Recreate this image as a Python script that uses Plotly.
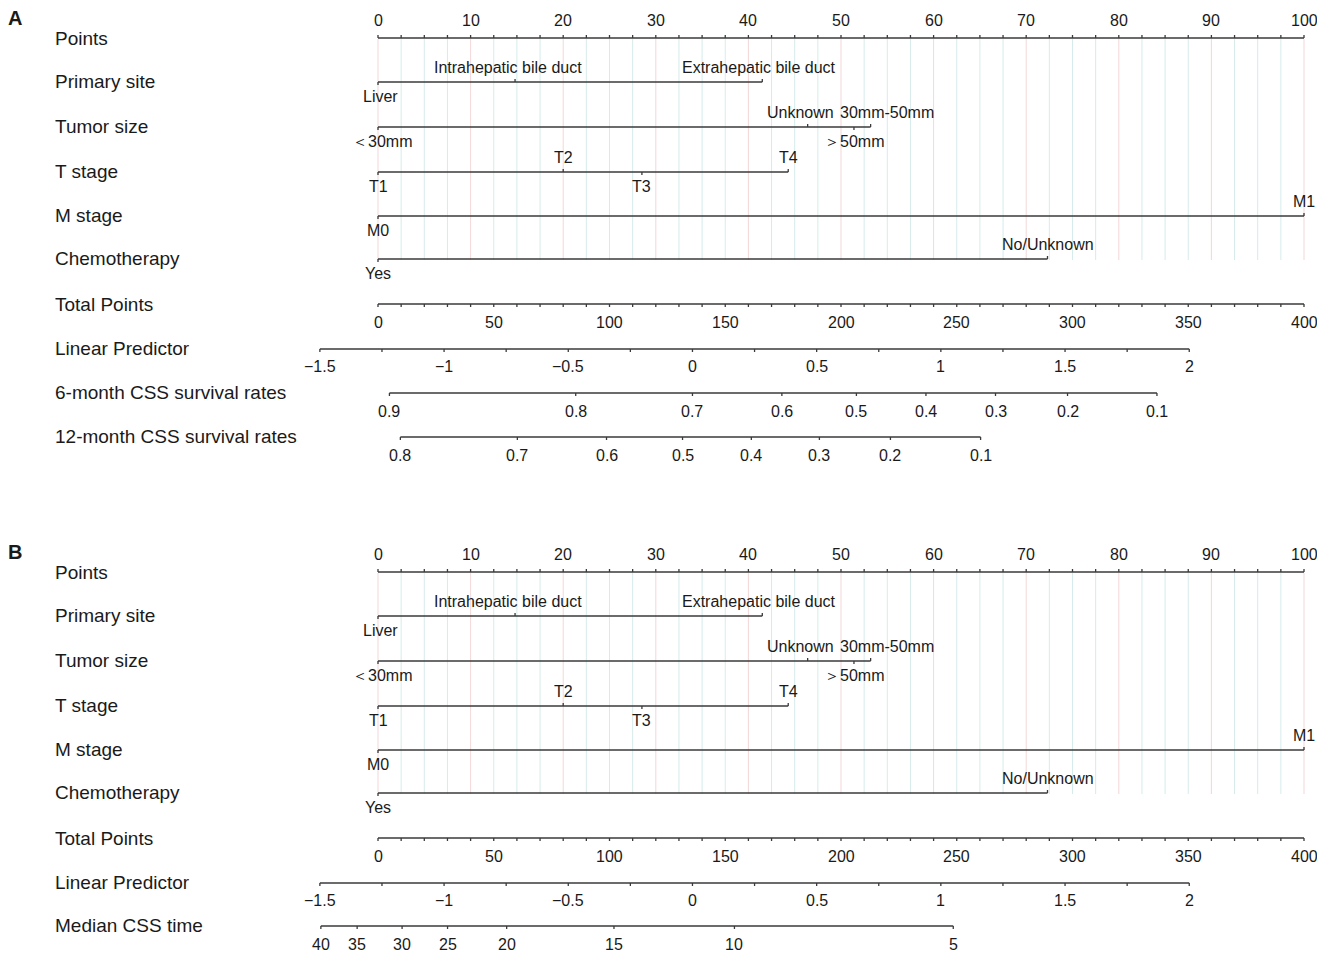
import plotly.graph_objects as go

# ---------------- data ----------------
points_labels = [0, 10, 20, 30, 40, 50, 60, 70, 80, 90, 100]
points_minor_step = 2.5

primary_site_levels = ["Liver", "Intrahepatic bile duct", "Extrahepatic bile duct"]
primary_site_points = [0, 14.8, 41.5]

tumor_size_levels = ["＜30mm", "Unknown", "＞50mm", "30mm-50mm"]
tumor_size_points = [0, 46.4, 51.4, 53.2]

t_stage_levels = ["T1", "T2", "T3", "T4"]
t_stage_points = [0, 20.0, 28.5, 44.3]

m_stage_levels = ["M0", "M1"]
m_stage_points = [0, 100]

chemo_levels = ["Yes", "No/Unknown"]
chemo_points = [0, 72.3]

total_points_labels = [0, 50, 100, 150, 200, 250, 300, 350, 400]
total_points_minor_step = 10
total_points_max = 400

lp_labels = [-1.5, -1, -0.5, 0, 0.5, 1, 1.5, 2]
lp_minor_step = 0.25
lp_at_zero_total = -1.266
lp_per_total_point = 0.00932

surv6_labels = ["0.9", "0.8", "0.7", "0.6", "0.5", "0.4", "0.3", "0.2", "0.1"]
surv6_lp = [-1.22, -0.47, 0.0, 0.36, 0.66, 0.94, 1.22, 1.51, 1.87]

surv12_labels = ["0.8", "0.7", "0.6", "0.5", "0.4", "0.3", "0.2", "0.1"]
surv12_lp = [-1.176, -0.705, -0.346, -0.040, 0.237, 0.511, 0.797, 1.160]

median_labels = ["40", "35", "30", "25", "20", "15", "10", "5"]
median_lp = [-1.496, -1.350, -1.169, -0.986, -0.748, -0.316, 0.169, 1.05]

# ---------------- layout / style ----------------
PAGE_OFF = 8                     # browser body margin
W, H = 1325 - PAGE_OFF, 957 - PAGE_OFF
PX0, PX100 = 378, 1304           # page pixel positions of points 0 and 100
ppp = (PX100 - PX0) / 100.0
x_range = [-(PX0 - PAGE_OFF) / ppp, (W - (PX0 - PAGE_OFF)) / ppp]
y_range = [H + PAGE_OFF, PAGE_OFF]   # y in page pixels

FONT = "Liberation Sans, Arial, Helvetica, sans-serif"
LINE = "#3a3a3a"
TXT = "#1a1a1a"
ROW_FS = 19
TICK_FS = 16
GRID_MINOR = "rgba(200,228,228,0.75)"
GRID_MAJOR = "rgba(240,205,205,0.8)"

label_sides = {
    "primary": ["below", "above", "above"],
    "tumor": ["below", "above", "below", "above"],
    "t": ["below", "above", "below", "above"],
    "m": ["below", "above"],
    "chemo": ["below", "above"],
}
label_nudge = {"Unknown": -7, "30mm-50mm": 16, "＜30mm": 4, "Liver": 2,
               "Intrahepatic bile duct": -7, "Extrahepatic bile duct": -3}


def paper_x(px):
    return (px - PAGE_OFF) / W


def tp_to_x(tp):
    return tp * 100.0 / total_points_max


def lp_to_x(lp):
    return tp_to_x((lp - lp_at_zero_total) / lp_per_total_point)


seg_x, seg_y = [], []
grid_minor_x, grid_minor_y = [], []
grid_major_x, grid_major_y = [], []
annotations = []


def seg(x0, y0, x1, y1):
    seg_x.extend([x0, x1, None])
    seg_y.extend([y0, y1, None])


def text(x, y, s, size=TICK_FS, xref="x", anchor="center", xshift=0, bold=False):
    annotations.append(dict(
        x=x, y=y, xref=xref, yref="y", text=("<b>%s</b>" % s) if bold else s,
        showarrow=False, xanchor=anchor, yanchor="middle", xshift=xshift,
        font=dict(family=FONT, size=size, color=TXT)))


def frange(a, b, step):
    n = int(round((b - a) / step))
    return [a + i * step for i in range(n + 1)]


def panel(off, letter, last_rows):
    text(paper_x(15), 18 + off, letter, size=20, xref="paper", anchor="center", bold=True)
    # Points axis
    y = 38 + off
    text(paper_x(53), y, "Points", size=ROW_FS, xref="paper", anchor="left")
    seg(0, y, 100, y)
    for v in frange(0, 100, points_minor_step):
        seg(v, y, v, y - 3)
    for v in points_labels:
        text(v, y - 18, str(v))
    # grid
    for v in frange(0, 100, points_minor_step):
        if abs(v / 10 - round(v / 10)) < 1e-9:
            grid_major_x.extend([v, v, None]); grid_major_y.extend([y + 1, 260 + off, None])
        else:
            grid_minor_x.extend([v, v, None]); grid_minor_y.extend([y + 1, 260 + off, None])

    rows = [
        ("Primary site", 82, primary_site_levels, primary_site_points, "primary"),
        ("Tumor size", 127, tumor_size_levels, tumor_size_points, "tumor"),
        ("T stage", 172, t_stage_levels, t_stage_points, "t"),
        ("M stage", 216, m_stage_levels, m_stage_points, "m"),
        ("Chemotherapy", 259, chemo_levels, chemo_points, "chemo"),
    ]
    for name, yy, levels, pts, key in rows:
        y = yy + off
        text(paper_x(53), y - 1, name, size=ROW_FS, xref="paper", anchor="left")
        seg(min(pts), y, max(pts), y)
        for lev, p, side in zip(levels, pts, label_sides[key]):
            seg(p, y, p, y - 3 if side == "above" else y + 3)
            ly = y - 15 if side == "above" else y + 14
            text(p, ly, lev, xshift=label_nudge.get(lev, 0))

    # Total points
    y = 304 + off
    text(paper_x(53), y, "Total Points", size=ROW_FS, xref="paper", anchor="left")
    seg(0, y, tp_to_x(total_points_max), y)
    for v in frange(0, total_points_max, total_points_minor_step):
        seg(tp_to_x(v), y, tp_to_x(v), y + 3)
    for v in total_points_labels:
        text(tp_to_x(v), y + 18, str(v))

    # Linear predictor
    y = 349 + off
    text(paper_x(53), y - 1, "Linear Predictor", size=ROW_FS, xref="paper", anchor="left")
    seg(lp_to_x(lp_labels[0]), y, lp_to_x(lp_labels[-1]), y)
    for v in frange(lp_labels[0], lp_labels[-1], lp_minor_step):
        seg(lp_to_x(v), y, lp_to_x(v), y + 3)
    for v in lp_labels:
        s = ("%g" % v).replace("-", "\u2212")
        text(lp_to_x(v), y + 17, s)

    for name, yy, labels, lps in last_rows:
        y = yy + off
        text(paper_x(53), y - 1, name, size=ROW_FS, xref="paper", anchor="left")
        seg(lp_to_x(lps[0]), y, lp_to_x(lps[-1]), y)
        for lab, lp in zip(labels, lps):
            seg(lp_to_x(lp), y, lp_to_x(lp), y + 3)
            text(lp_to_x(lp), y + 18, lab)


panel(0, "A", [
    ("6-month CSS survival rates", 393, surv6_labels, surv6_lp),
    ("12-month CSS survival rates", 437, surv12_labels, surv12_lp),
])
panel(534, "B", [
    ("Median CSS time", 392, median_labels, median_lp),
])

fig = go.Figure()
fig.add_trace(go.Scatter(x=grid_minor_x, y=grid_minor_y, mode="lines",
                         line=dict(color=GRID_MINOR, width=1), hoverinfo="skip"))
fig.add_trace(go.Scatter(x=grid_major_x, y=grid_major_y, mode="lines",
                         line=dict(color=GRID_MAJOR, width=1), hoverinfo="skip"))
fig.add_trace(go.Scatter(x=seg_x, y=seg_y, mode="lines",
                         line=dict(color=LINE, width=1.3), hoverinfo="skip"))

fig.update_layout(
    width=W, height=H, autosize=False,
    margin=dict(l=0, r=0, t=0, b=0),
    paper_bgcolor="white", plot_bgcolor="white",
    showlegend=False,
    xaxis=dict(range=x_range, visible=False, fixedrange=True),
    yaxis=dict(range=y_range, visible=False, fixedrange=True),
    annotations=annotations,
)
fig.write_html("out.html")
